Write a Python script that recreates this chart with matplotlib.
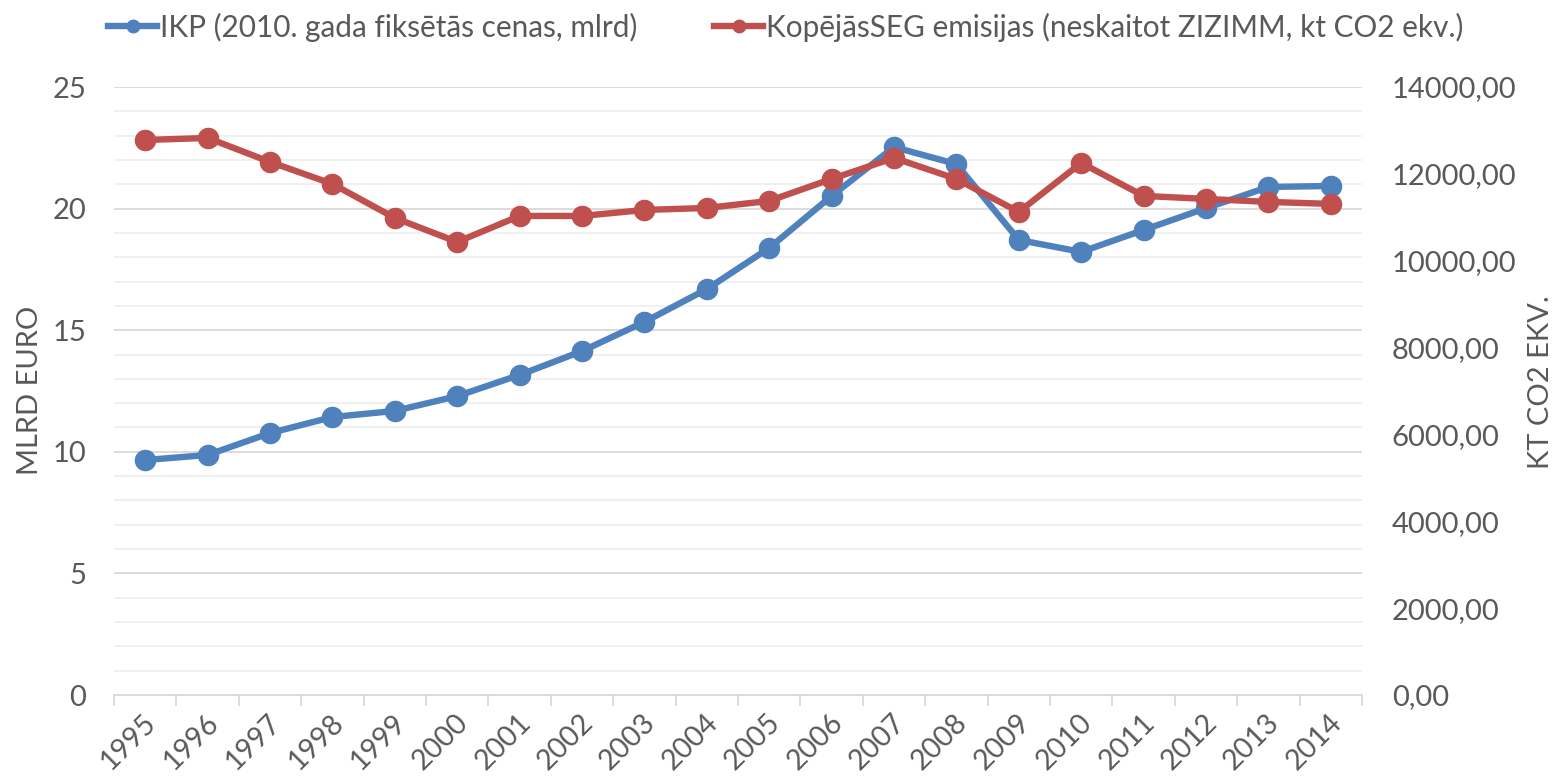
import matplotlib
matplotlib.use("Agg")
import matplotlib.pyplot as plt
from matplotlib.lines import Line2D
from matplotlib.ticker import FuncFormatter, MultipleLocator
import matplotlib.transforms as mtrans

plt.rcParams['font.family'] = ['Lato', 'DejaVu Sans']

years = [str(y) for y in range(1995, 2015)]
gdp = [9.66, 9.87, 10.77, 11.43, 11.68, 12.29, 13.16, 14.14, 15.34, 16.69,
       18.38, 20.52, 22.53, 21.83, 18.71, 18.22, 19.12, 20.02, 20.89, 20.93]
ghg = [12780, 12827, 12275, 11768, 10985, 10432, 11031, 11031, 11169, 11215,
       11377, 11883, 12367, 11883, 11123, 12252, 11492, 11423, 11354, 11308]
gdp_label = "IKP (2010. gada fiksētās cenas, mlrd)"
ghg_label = "KopējāsSEG emisijas (neskaitot ZIZIMM, kt CO2 ekv.)"

blue = '#4F81BD'
red = '#C0504D'
txt = '#595959'
fs = 21

fig = plt.figure(figsize=(15.56, 7.81), dpi=100)
ax = fig.add_axes([114/1556, 1-695/781, (1362-114)/1556, (695-87)/781])
ax2 = ax.twinx()

x = list(range(len(years)))
ax.plot(x, gdp, color=blue, lw=4.6, marker='o', ms=14.5, zorder=3)
ax2.plot(x, ghg, color=red, lw=4.6, marker='o', ms=14.5, zorder=3)

ax.set_xlim(-0.5, len(years) - 0.5)
ax.set_ylim(0, 25)
ax2.set_ylim(0, 14000)

ax.yaxis.set_major_locator(MultipleLocator(5))
ax.yaxis.set_minor_locator(MultipleLocator(1))
ax.grid(which='minor', axis='y', color='#EEEEEE', lw=1.2)
ax.grid(which='major', axis='y', color='#D9D9D9', lw=1.3)
ax.set_axisbelow(True)

ax2.yaxis.set_major_locator(MultipleLocator(2000))
ax2.yaxis.set_major_formatter(FuncFormatter(lambda v, p: f"{v:.2f}".replace('.', ',')))

for a in (ax, ax2):
    for s in a.spines.values():
        s.set_visible(False)
ax.spines['bottom'].set_visible(True)
ax.spines['bottom'].set_color('#D9D9D9')
ax.spines['bottom'].set_linewidth(1.3)

ax.set_xticks(x)
ax.set_xticklabels(years, rotation=45, ha='right', va='center', rotation_mode='anchor',
                   fontsize=20.5, color=txt)
ax.tick_params(axis='x', which='major', length=0, pad=17)
ax.set_xticks([i - 0.5 for i in range(len(years) + 1)], minor=True)
ax.tick_params(axis='x', which='minor', length=8, color='#D9D9D9', width=1.3)
ax.tick_params(axis='y', which='both', length=0, labelsize=fs, labelcolor=txt, pad=20)
ax2.tick_params(axis='y', length=0, labelsize=fs, labelcolor=txt, pad=21.5)

offset = mtrans.ScaledTranslation(7/100, 0, fig.dpi_scale_trans)
for lbl in ax.get_xticklabels():
    lbl.set_transform(lbl.get_transform() + offset)

fig.text(30/1556, 1-390/781, "MLRD EURO", fontsize=fs, color=txt, rotation=90,
         ha='center', va='center')
fig.text(1541/1556, 1-382/781, "KT CO2 EKV.", fontsize=fs, color=txt, rotation=90,
         ha='center', va='center')

handles = [Line2D([0], [0], color=blue, lw=4.6, marker='o', ms=9),
           Line2D([0], [0], color=red, lw=4.6, marker='o', ms=9)]
fig.legend(handles, [gdp_label, ghg_label], loc='center', bbox_to_anchor=(0.505, 1-27/781),
           ncol=2, frameon=False, fontsize=21.4, labelcolor=txt, handlelength=1.65,
           handletextpad=0.08, columnspacing=2.6)

fig.savefig("out.png", dpi=100, facecolor='white')
